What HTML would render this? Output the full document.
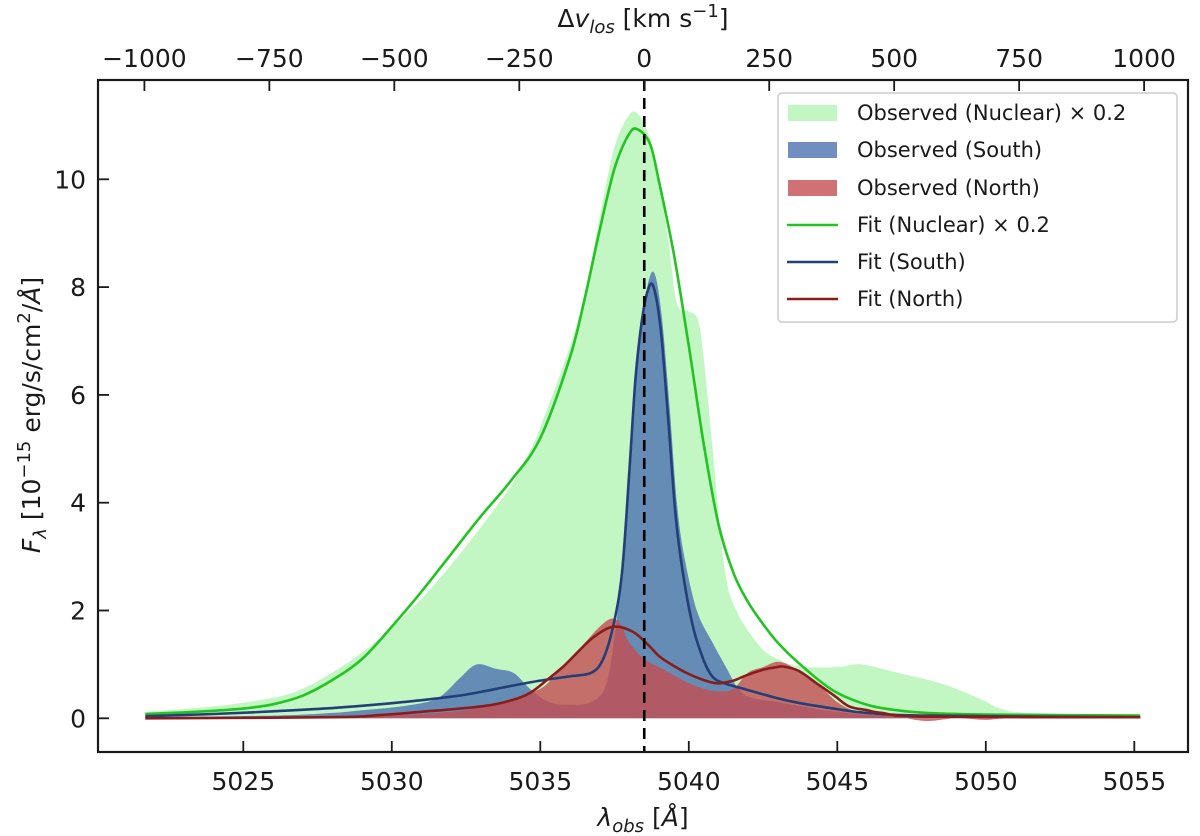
<!DOCTYPE html>
<html><head><meta charset="utf-8"><style>
body{margin:0;background:#fff}
svg{display:block;font-family:"DejaVu Sans","Liberation Sans",sans-serif}
</style></head><body>
<svg id="chart" width="1200" height="836" viewBox="0 0 1200 836" xmlns="http://www.w3.org/2000/svg"></svg>
<script>
// ---- data (wavelength Å, flux 1e-15) ----
const nucObsLam = [5021.7,5024,5026,5027,5028,5029,5030,5031,5032,5033,5034,5034.6,5035,5036,5036.5,5037,5037.5,5038,5038.3,5038.6,5038.9,5039.3,5039.6,5040,5040.3,5040.5,5040.8,5041.2,5041.6,5042.4,5043,5043.75,5045,5045.8,5047,5048,5048.8,5049.9,5050.5,5051.5,5055.2];
const nucObsVal = [0.12,0.22,0.38,0.55,0.85,1.22,1.68,2.22,2.85,3.55,4.3,4.9,5.4,6.9,7.9,9.3,10.6,11.2,11.2,10.9,10.3,8.9,7.7,7.55,7.4,6.7,5.0,2.8,2.0,1.33,1.1,0.96,0.95,1.0,0.85,0.72,0.59,0.34,0.18,0.1,0.07];
const southObsLam = [5021.7,5026,5028,5029,5030,5031,5031.5,5031.85,5032.3,5032.86,5033.5,5034.1,5034.65,5035.3,5036,5036.7,5037.2,5037.5,5037.75,5038,5038.3,5038.6,5038.85,5039.1,5039.35,5039.6,5039.85,5040.27,5040.8,5041.3,5041.6,5042,5043,5044,5045,5047,5055.2];
const southObsVal = [0.02,0.05,0.1,0.15,0.2,0.28,0.36,0.5,0.75,1.0,0.92,0.84,0.55,0.3,0.25,0.3,0.6,1.5,2.8,4.8,6.8,8.0,8.25,7.4,5.8,4.0,3.0,2.0,1.4,0.9,0.6,0.4,0.3,0.2,0.12,0.05,0.02];
const northObsLam = [5021.7,5028,5030,5032,5033,5034,5035,5035.5,5036,5036.5,5037,5037.4,5037.7,5038,5038.5,5039,5039.5,5040,5040.5,5041,5041.5,5042,5042.5,5043,5043.5,5044,5044.5,5045,5045.5,5046,5047,5048,5049,5050,5051,5055.2];
const northObsVal = [0.0,0.02,0.05,0.12,0.2,0.35,0.55,0.8,1.1,1.4,1.7,1.85,1.75,1.4,1.1,0.95,0.8,0.65,0.55,0.5,0.55,0.85,0.95,1.05,0.95,0.75,0.55,0.3,0.15,0.08,0.03,-0.05,0,-0.03,0,0];
const nucFitLam = [5021.7,5023,5024,5025,5026,5027,5028,5029,5030,5031,5032,5033,5034,5035,5036,5036.5,5037,5037.5,5038,5038.3,5038.7,5039,5039.5,5040,5040.5,5041,5041.5,5042,5042.5,5043,5043.75,5044.85,5046,5047,5048,5050,5055.2];
const nucFitVal = [0.08,0.11,0.14,0.18,0.26,0.42,0.71,1.1,1.7,2.35,3.05,3.75,4.4,5.2,6.7,7.8,9.06,10.2,10.85,10.92,10.65,9.95,8.6,6.91,5.1,3.6,2.7,2.15,1.75,1.4,1.0,0.52,0.25,0.15,0.1,0.07,0.05];
const southFitLam = [5021.7,5024,5026,5028,5030,5032,5033,5034,5035,5036,5036.7,5037.1,5037.45,5037.75,5038,5038.2,5038.4,5038.6,5038.8,5039.05,5039.3,5039.55,5039.8,5040.14,5040.5,5040.8,5041.2,5041.95,5043,5043.75,5045,5046,5048,5055.2];
const southFitVal = [0.04,0.08,0.13,0.19,0.28,0.4,0.49,0.6,0.7,0.78,0.84,1.08,1.7,2.7,4.6,6.26,7.3,7.9,8.02,7.24,5.6,3.8,2.7,1.7,1.08,0.77,0.65,0.53,0.37,0.28,0.17,0.1,0.05,0.02];
const northFitLam = [5021.7,5028,5029.6,5031,5033,5034,5034.65,5035.2,5035.77,5036.3,5036.8,5037.45,5038.1,5038.6,5039.03,5039.5,5039.93,5040.4,5040.94,5041.5,5041.95,5042.5,5042.96,5043.2,5043.7,5044.3,5044.9,5045.4,5046,5046.5,5048,5055.2];
const northFitVal = [0.0,0.02,0.06,0.12,0.22,0.33,0.47,0.7,0.96,1.25,1.51,1.70,1.61,1.38,1.14,0.97,0.84,0.73,0.65,0.7,0.8,0.9,0.95,0.96,0.88,0.65,0.42,0.22,0.15,0.1,0.03,0.02];
const xTicks = [5025,5030,5035,5040,5045,5050,5055];
const yTicks = [0,2,4,6,8,10];
const vTicks = [-1000,-750,-500,-250,0,250,500,750,1000];
const lam0 = 5038.5;

// ---- axes ----
const L=98,R=1188,T=80,B=752;
const X = l => 243.3 + (l-5025)*29.7;
const Y = v => 718.3 - v*53.9;
const V = v => X(lam0 + v/1000*16.83);
const NS="http://www.w3.org/2000/svg";
const svg=document.getElementById('chart');
function mk(tag,attrs,parent){const e=document.createElementNS(NS,tag);for(const k in attrs)e.setAttribute(k,attrs[k]);(parent||svg).appendChild(e);return e;}
function smooth(lam,val){
  const p=lam.map((l,i)=>[X(l),Y(val[i])]);
  let d='';
  for(let i=0;i<p.length-1;i++){
    const p0=p[Math.max(0,i-1)],p1=p[i],p2=p[i+1],p3=p[Math.min(p.length-1,i+2)];
    const c1=[p1[0]+(p2[0]-p0[0])/6,p1[1]+(p2[1]-p0[1])/6];
    const c2=[p2[0]-(p3[0]-p1[0])/6,p2[1]-(p3[1]-p1[1])/6];
    d+=' C'+c1[0].toFixed(1)+','+c1[1].toFixed(1)+' '+c2[0].toFixed(1)+','+c2[1].toFixed(1)+' '+p2[0].toFixed(1)+','+p2[1].toFixed(1);
  }
  return {start:p[0],d:d};
}
function area(lam,val,fill,op,name){
  const s=smooth(lam,val);
  const d='M'+X(lam[0])+','+Y(0)+' L'+s.start[0]+','+s.start[1]+s.d+' L'+X(lam[lam.length-1])+','+Y(0)+' Z';
  const p=mk('path',{d:d,fill:fill,'fill-opacity':op,stroke:'none'});
  
  
}
function line(lam,val,col,name){
  const s=smooth(lam,val);
  const p=mk('path',{d:'M'+s.start[0]+','+s.start[1]+s.d,fill:'none',stroke:col,'stroke-width':2.6,'stroke-linejoin':'round'});
  
  
}
area(nucObsLam,nucObsVal,'#90ee90',0.55,'observed-nuclear-area');
area(southObsLam,southObsVal,'#4c72b0',0.8,'observed-south-area');
area(northObsLam,northObsVal,'#c44e52',0.8,'observed-north-area');
line(nucFitLam,nucFitVal,'#22c322','fit-nuclear-line');
line(southFitLam,southFitVal,'#233f78','fit-south-line');
line(northFitLam,northFitVal,'#8b1c1c','fit-north-line');
const dl=mk('line',{x1:X(lam0),x2:X(lam0),y1:T,y2:B,stroke:'#000','stroke-width':2.6,'stroke-dasharray':'11,7'});



const frame=mk('rect',{x:L,y:T,width:R-L,height:B-T,fill:'none',stroke:'#1a1a1a','stroke-width':2.2});



xTicks.forEach(t=>{
  mk('line',{x1:X(t),x2:X(t),y1:B,y2:B-11,stroke:'#1a1a1a','stroke-width':1.8});
  const tx=mk('text',{x:X(t),y:B+38,'font-size':25,'text-anchor':'middle',fill:'#1a1a1a'});
  tx.textContent=t;
  
  
});
yTicks.forEach(t=>{
  mk('line',{x1:L,x2:L+11,y1:Y(t),y2:Y(t),stroke:'#1a1a1a','stroke-width':1.8});
  const tx=mk('text',{x:L-12,y:Y(t)+9,'font-size':25,'text-anchor':'end',fill:'#1a1a1a'});
  tx.textContent=t;
  
  
});
vTicks.forEach(t=>{
  mk('line',{x1:V(t),x2:V(t),y1:T,y2:T+11,stroke:'#1a1a1a','stroke-width':1.8});
  const tx=mk('text',{x:V(t),y:T-13,'font-size':25,'text-anchor':'middle',fill:'#1a1a1a'});
  tx.textContent=(t<0?'\u2212'+(-t):t);
  
  
});
</script>
<svg style="position:absolute;left:0;top:0" width="1200" height="836" xmlns="http://www.w3.org/2000/svg">
  <text x="643" y="826" font-size="25" text-anchor="middle" fill="#1a1a1a"><tspan font-style="italic">λ</tspan><tspan font-style="italic" font-size="18" dy="6">obs</tspan><tspan dy="-6"> [</tspan><tspan font-style="italic">Å</tspan>]</text>
  <text x="643" y="27" font-size="25" text-anchor="middle" fill="#1a1a1a">Δ<tspan font-style="italic">v</tspan><tspan font-style="italic" font-size="18" dy="6">los</tspan><tspan dy="-6"> [km s</tspan><tspan font-size="18" dy="-10">−1</tspan><tspan dy="10">]</tspan></text>
  <text transform="translate(40,415) rotate(-90)" font-size="25" text-anchor="middle" fill="#1a1a1a"><tspan font-style="italic">F</tspan><tspan font-style="italic" font-size="18" dy="6">λ</tspan><tspan dy="-6"> [10</tspan><tspan font-size="18" dy="-10">−15</tspan><tspan dy="10"> erg/s/cm</tspan><tspan font-size="18" dy="-10">2</tspan><tspan dy="10">/</tspan><tspan font-style="italic">Å</tspan>]</text>
  <g>
    <rect x="778" y="93" width="399" height="229" rx="4" fill="#fff" fill-opacity="0.85" stroke="#cccccc" stroke-width="1.5"/>
    <rect x="788" y="105" width="49" height="16" fill="#90ee90" fill-opacity="0.55"/>
    <rect x="788" y="142" width="49" height="16" fill="#4c72b0" fill-opacity="0.8"/>
    <rect x="788" y="180" width="49" height="16" fill="#c44e52" fill-opacity="0.8"/>
    <line x1="787" x2="838" y1="225" y2="225" stroke="#22c322" stroke-width="2.6"/>
    <line x1="787" x2="838" y1="262" y2="262" stroke="#233f78" stroke-width="2.6"/>
    <line x1="787" x2="838" y1="299" y2="299" stroke="#8b1c1c" stroke-width="2.6"/>
    <g font-size="21" fill="#1a1a1a">
      <text x="857" y="120">Observed (Nuclear) × 0.2</text>
      <text x="857" y="157">Observed (South)</text>
      <text x="857" y="195">Observed (North)</text>
      <text x="857" y="232">Fit (Nuclear) × 0.2</text>
      <text x="857" y="269">Fit (South)</text>
      <text x="857" y="306">Fit (North)</text>
    </g>
  </g>
</svg>
</body></html>
